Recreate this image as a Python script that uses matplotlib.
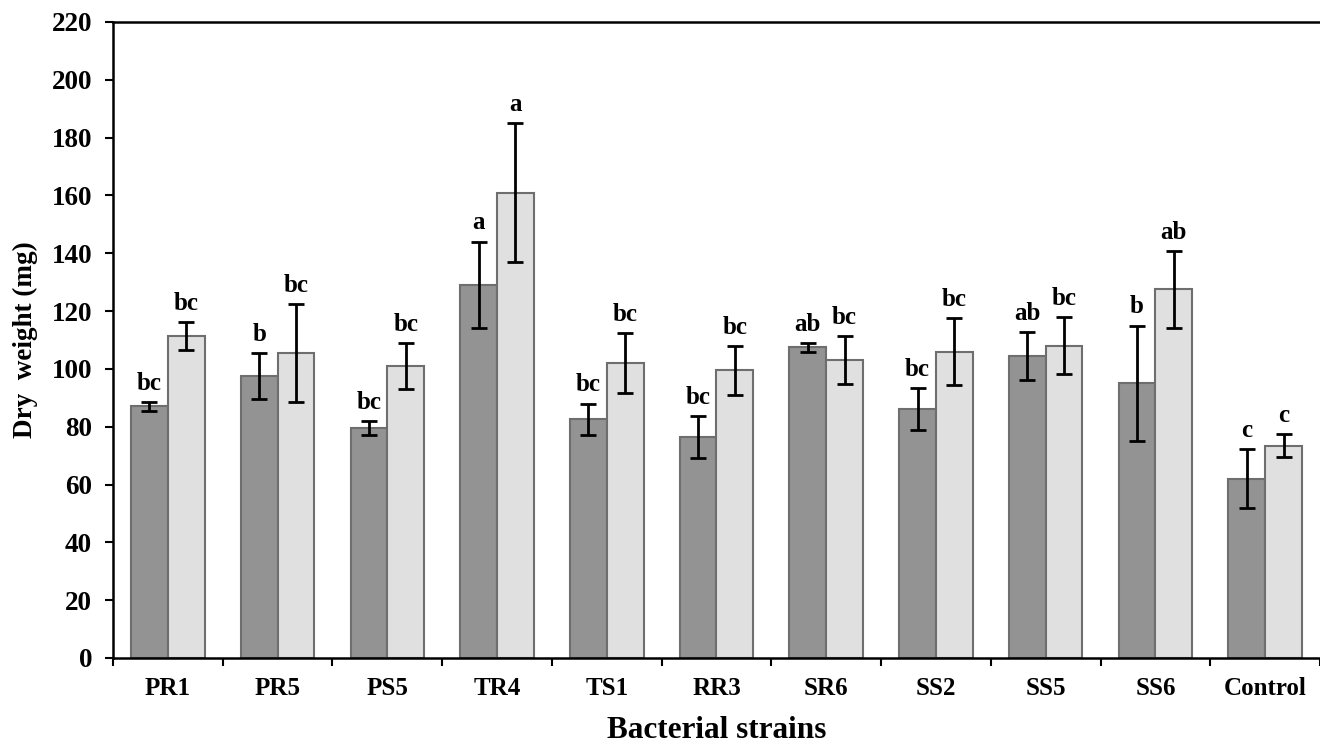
import numpy as np
import matplotlib.pyplot as plt

# data
strains = ["PR1", "PR5", "PS5", "TR4", "TS1", "RR3", "SR6", "SS2", "SS5", "SS6", "Control"]
dark_vals = [87, 97.5, 79.5, 129, 82.5, 76.5, 107.5, 86, 104.5, 95, 62]
dark_err = [1.5, 8, 2.5, 15, 5.5, 7.2, 1.5, 7.3, 8.2, 20, 10.2]
light_vals = [111.5, 105.5, 101, 161, 102, 99.5, 103, 106, 108, 127.5, 73.5]
light_err = [4.8, 16.8, 7.8, 24, 10.5, 8.5, 8.3, 11.5, 9.8, 13.3, 4]
dark_letters = ["bc", "b", "bc", "a", "bc", "bc", "ab", "bc", "ab", "b", "c"]
light_letters = ["bc", "bc", "bc", "a", "bc", "bc", "bc", "bc", "bc", "ab", "c"]

plt.rcParams['font.family'] = ['Liberation Serif', 'DejaVu Serif']
plt.rcParams['font.weight'] = 'bold'

fig = plt.figure(figsize=(13.2, 7.45), dpi=100)
ax = fig.add_axes([0.0856, 0.1168, 0.9144, 0.8537])

x = np.arange(len(strains))
w = 0.335
ax.bar(x - w/2, dark_vals, w, color='#939393', edgecolor='#6e6e6e', linewidth=1.5, zorder=2)
ax.bar(x + w/2, light_vals, w, color='#e0e0e0', edgecolor='#6e6e6e', linewidth=1.5, zorder=2)
ax.errorbar(x - w/2, dark_vals, yerr=dark_err, fmt='none', ecolor='black', elinewidth=2, capsize=6, capthick=2, zorder=3)
ax.errorbar(x + w/2, light_vals, yerr=light_err, fmt='none', ecolor='black', elinewidth=2, capsize=6, capthick=2, zorder=3)

for i in range(len(strains)):
    ax.text(x[i] - w/2, dark_vals[i] + dark_err[i] + 2.5, dark_letters[i], ha='center', va='bottom',
            fontsize=18, fontweight='bold')
    ax.text(x[i] + w/2, light_vals[i] + light_err[i] + 2.5, light_letters[i], ha='center', va='bottom',
            fontsize=18, fontweight='bold')

ax.set_xlim(-0.5, 10.47)
ax.set_ylim(0, 220)
ax.set_yticks(np.arange(0, 221, 20))
ax.set_xticks(np.arange(-0.5, 11, 1))
ax.set_xticklabels([])
ax.set_xticks(x, minor=True)
ax.set_xticklabels(strains, minor=True, fontsize=18, fontweight='bold')
ax.tick_params(axis='x', which='minor', length=0, pad=14)
ax.tick_params(axis='x', which='major', direction='out', length=6, width=1.5)
ax.tick_params(axis='y', direction='out', length=6, width=1.5, labelsize=19.5, pad=9)
for lab in ax.get_yticklabels():
    lab.set_fontweight('bold')

ax.spines['right'].set_visible(False)
for s in ['left', 'top', 'bottom']:
    ax.spines[s].set_linewidth(1.8)

ax.set_xlabel("Bacterial strains", fontsize=22.5, fontweight='bold', labelpad=11)
ax.set_ylabel("Dry  weight (mg)", fontsize=19.5, fontweight='bold', labelpad=10)

fig.savefig("out.png", dpi=100)
